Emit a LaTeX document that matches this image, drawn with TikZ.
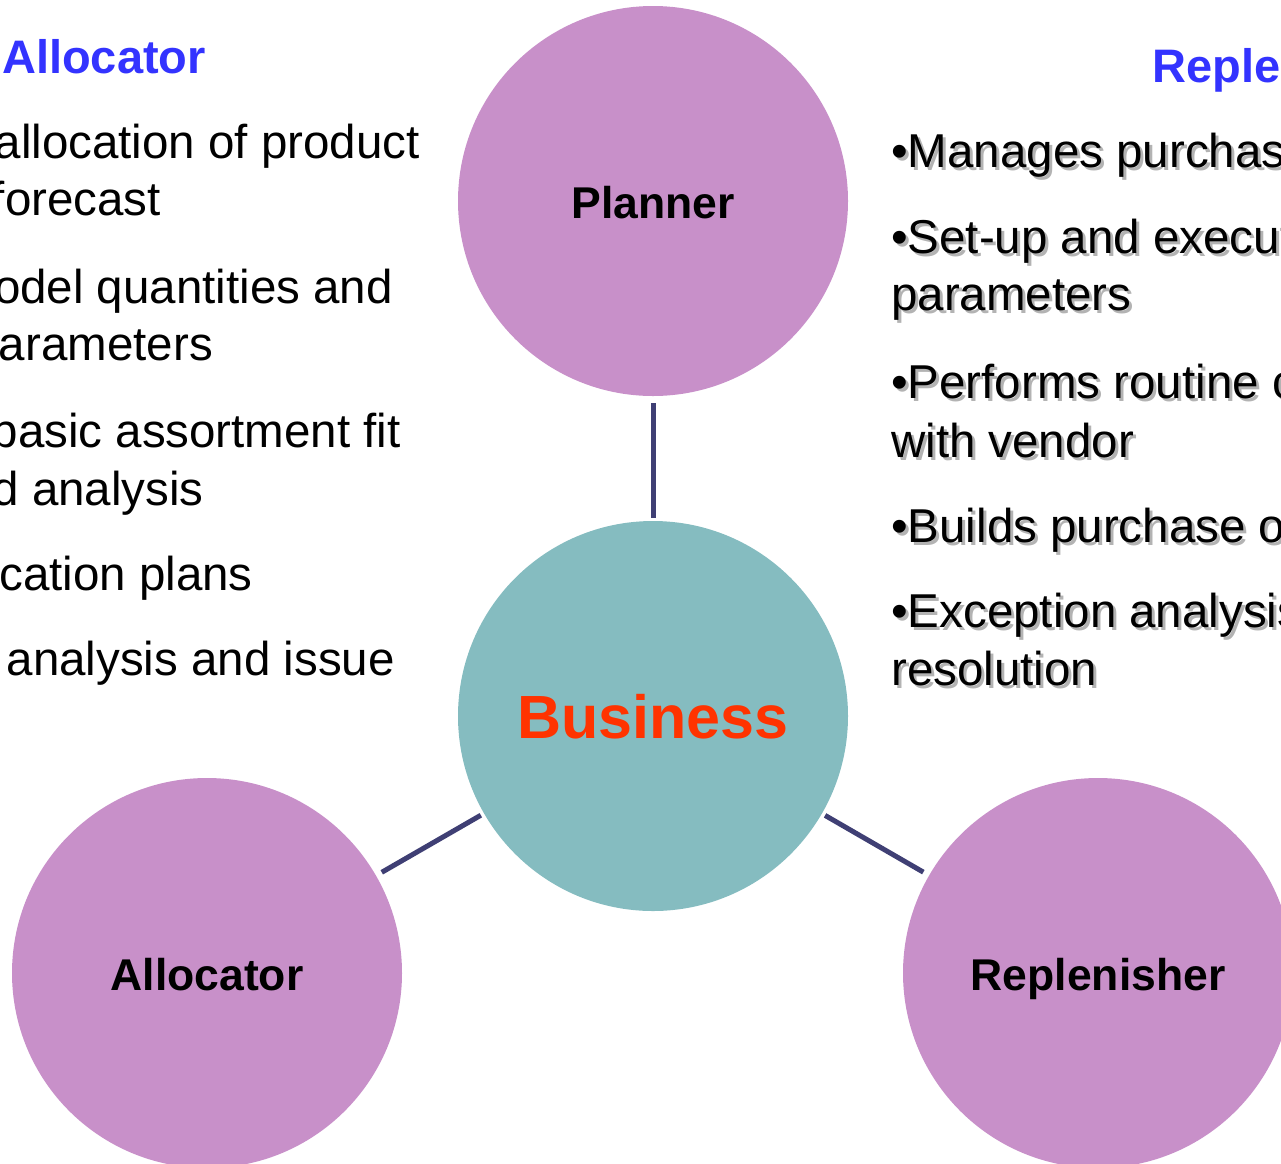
\documentclass[tikz,border=0pt]{standalone}
\usepackage{fontspec}
\setmainfont{Liberation Sans}
\definecolor{rolefill}{RGB}{200,144,201}
\definecolor{busfill}{RGB}{133,188,192}
\definecolor{titleblue}{RGB}{51,51,255}
\definecolor{busred}{RGB}{255,51,0}
\definecolor{linkcol}{RGB}{63,63,116}
\definecolor{shadowgray}{RGB}{160,160,160}
\tikzset{
  role/.style={circle, fill=rolefill, draw=none, minimum size=390pt, inner sep=0pt},
  hub/.style={circle, fill=busfill, draw=none, minimum size=390pt, inner sep=0pt},
  rolelabel/.style={inner sep=0pt, anchor=base, font=\fontsize{44.5}{53}\selectfont\bfseries},
  hublabel/.style={inner sep=0pt, anchor=base, text=busred, font=\fontsize{61}{70}\selectfont\bfseries},
  title/.style={inner sep=0pt, text=titleblue, font=\fontsize{47}{56}\selectfont\bfseries},
  body/.style={inner sep=0pt, font=\fontsize{47.5}{57}\selectfont},
  bodyR/.style={body, anchor=base east},
  bodyL/.style={body, anchor=base west},
  shade/.style={bodyL, text=shadowgray, opacity=0.8},
  link/.style={draw=linkcol, line width=5pt},
}
\begin{document}
\begin{tikzpicture}[x=1pt,y=-1pt]
\useasboundingbox (0,0) rectangle (1281,1163);
\clip (0,0) rectangle (1281,1163);
% circles
\node[role] (plan) at (653,201) {};
\node[hub] (bus) at (653,716) {};
\node[role] (alloc) at (207,973) {};
\node[role] (repl) at (1098,973) {};
% labels
\node[rolelabel] (planL) at (653,218) {Planner};
\node[hublabel] (busL) at (653,738) {Business};
\node[rolelabel] (allocL) at (207,990) {Allocator};
\node[rolelabel] (replL) at (1098,990) {Replenisher};
% connectors
\draw[link, shorten <=3pt, shorten >=6.5pt] (bus) -- (plan);
\draw[link, shorten <=3.5pt, shorten >=6.5pt] (bus) -- (alloc);
\draw[link, shorten <=3.5pt, shorten >=6.5pt] (bus) -- (repl);
% left text block
\node[title, anchor=base west] (ltitle) at (2,73) {Allocator};
\node[bodyR] (l1) at (420,158) {allocation of product};
\node[bodyR] (l2) at (161,215) {forecast};
\node[bodyR] (l3) at (393,303) {odel quantities and};
\node[bodyR] (l4) at (213,360) {arameters};
\node[bodyR] (l5) at (401,447) {basic assortment fit};
\node[bodyR] (l6) at (204,505) {d analysis};
\node[bodyR] (l7) at (253,590) {cation plans};
\node[bodyR] (l8) at (395,675) {analysis and issue};
% right text block
\node[title, anchor=base west] (rtitle) at (1152,82) {Reple};
\node[shade] (r1s) at (894,170) {•Manages purchase};
\node[shade] (r2s) at (894,256) {•Set-up and execute};
\node[shade] (r3s) at (894,313) {parameters};
\node[shade] (r4s) at (894,401) {•Performs routine c};
\node[shade] (r5s) at (894,460) {with vendor};
\node[shade] (r6s) at (894,545) {•Builds purchase o};
\node[shade] (r7s) at (894,630) {•Exception analysis};
\node[shade] (r8s) at (894,688) {resolution};
\node[bodyL] (r1) at (891,167) {•Manages purchase};
\node[bodyL] (r2) at (891,253) {•Set-up and execute};
\node[bodyL] (r3) at (891,310) {parameters};
\node[bodyL] (r4) at (891,398) {•Performs routine c};
\node[bodyL] (r5) at (891,457) {with vendor};
\node[bodyL] (r6) at (891,542) {•Builds purchase o};
\node[bodyL] (r7) at (891,627) {•Exception analysis};
\node[bodyL] (r8) at (891,685) {resolution};
\end{tikzpicture}
\end{document}
